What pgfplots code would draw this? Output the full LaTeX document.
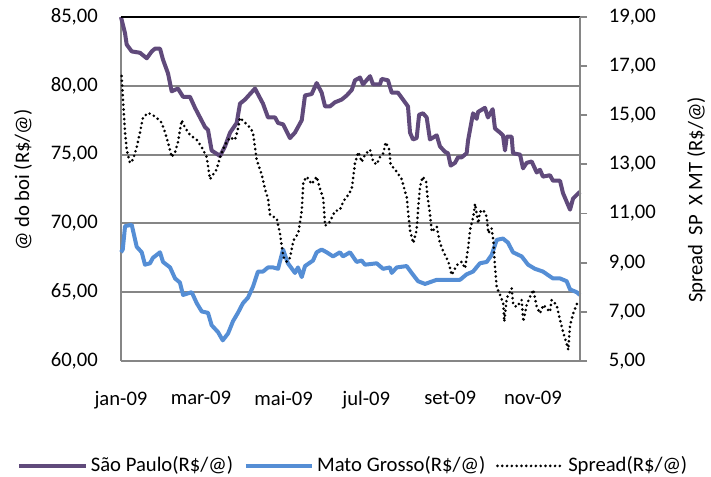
\documentclass[border=0pt]{standalone}
\usepackage{fontspec}
\setmainfont{Carlito}
\usepackage{pgfplots}
\pgfplotsset{compat=1.18}
\definecolor{spc}{HTML}{604A7B}
\definecolor{mtc}{HTML}{558ED5}
\definecolor{axgray}{HTML}{868686}

\begin{document}
\fontsize{15.5}{18}\selectfont
\begin{tikzpicture}
\pgfplotsset{
  every axis/.append style={
    scale only axis,
    width=344.25pt, height=258pt,
    xmin=0, xmax=338.75,
    clip=false,
    tick label style={font=\fontsize{15.5}{18}\selectfont},
    label style={font=\fontsize{15.5}{18}\selectfont},
    /pgf/number format/.cd, fixed, fixed zerofill, precision=2, use comma, assume math mode=true,
  },
}
\begin{axis}[
  name=ax,
  axis x line*=bottom, axis y line*=left,
  axis line style={draw=axgray, line width=1.6pt},
  ymin=60, ymax=85,
  ytick={60,65,...,85},
  xtick={0,59,120,181,243,304},
  xticklabels={jan-09,mar-09,mai-09,jul-09,set-09,nov-09},
  major tick length=0pt,
  xticklabel style={anchor=north, yshift=-17pt},
  yticklabel style={anchor=east, xshift=-12pt},
  ymajorgrids=true,
  grid style={draw=axgray, line width=1.4pt},
  ylabel={@ do boi (R\$/@)},
  ylabel style={at={(axis description cs:-0.2135,0.526)}, anchor=center, rotate=0},
  legend columns=3,
  legend style={at={(axis description cs:0.507,-0.305)}, anchor=center, draw=none, fill=none,
    font=\fontsize{15.5}{18}\selectfont,
    /tikz/every even column/.append style={column sep=6pt}},
  legend image code/.code={\draw[#1] (0pt,0pt) -- (50pt,0pt);},
]
\addplot[spc, line width=3pt, line join=round] coordinates {
(0,85.0) (3,83.8) (4.2,83.0) (7.9,82.5) (14,82.4) (19,82.0) (22.7,82.5) (25.1,82.7)
(28.8,82.7) (31,81.9) (34.7,80.9) (37.4,79.6) (42,79.8) (45.8,79.2) (50.9,79.2)
(54.6,78.4) (58.3,77.7) (62,77.0) (64.2,76.8) (66.9,75.3) (73.1,74.9) (76.8,75.6)
(80.5,76.6) (85.4,77.3) (87.8,78.7) (91.5,79.0) (98.9,79.8) (104.8,78.7) (108.5,77.7)
(113.7,77.7) (115.9,77.3) (119.6,77.2) (124.7,76.2) (128.4,76.6) (133.4,77.5)
(135.8,79.3) (140.7,79.4) (144.4,80.2) (148.1,79.5) (150.6,78.5) (154.2,78.5)
(157.9,78.8) (162.9,79.0) (166.6,79.3) (170.3,79.7) (172.7,80.4) (176.4,80.6)
(178.6,80.1) (183.8,80.7) (186,80.1) (191.1,80.1) (192.4,80.5) (197,80.4)
(199.8,79.5) (204.4,79.5) (209.6,78.8) (211.8,78.5) (213.3,76.6) (215.5,76.1)
(218.2,76.2) (220,77.9) (222.9,78.0) (225.6,77.7) (228,76.1) (233,76.4) (235.4,75.6)
(239.1,75.2) (241.3,75.1) (243.3,74.2) (246.5,74.4) (248.7,74.8) (251.4,74.8)
(255.1,75.1) (256.1,76.0) (259.8,78.0) (262.5,77.6) (263.5,78.1) (268.6,78.4)
(270.8,77.7) (274.3,78.3) (276,76.9) (279.7,76.6) (281.9,76.4) (283.4,75.3)
(284.7,76.3) (288.3,76.3) (289.3,75.1) (294.5,75.0) (296.7,74.0) (299.4,74.4)
(303.1,74.5) (306.8,73.7) (309.2,73.9) (311.4,73.4) (316.6,73.5) (318.8,73.1)
(324,73.1) (326.2,72.2) (331.4,71.0) (333.6,71.8) (338.7,72.3)
};
\addlegendentry{São Paulo(R\$/@)}
\addplot[mtc, line width=3pt, line join=round] coordinates {
(0,67.9) (1.3,68.1) (3,69.8) (7.9,69.9) (11.6,68.3) (15.3,67.9) (17.7,67.0) (21.4,67.1)
(23.6,67.5) (28.8,67.9) (31,67.2) (36.2,66.8) (39.9,66.0) (43.5,65.7) (45.8,64.8)
(52.2,65.0) (55.9,64.2) (59.6,63.6) (64.2,63.5) (66.9,62.6) (71.6,62.1) (75.1,61.5)
(79,62.0) (82.7,62.9) (86.3,63.5) (90,64.2) (93.7,64.6) (97.4,65.4) (101.1,66.5)
(104.8,66.5) (108.5,66.8) (112.2,66.8) (115.9,66.7) (119.6,68.1) (123.2,67.1)
(128.4,66.4) (130.6,66.8) (133.4,66.1) (135.8,66.9) (141.7,67.3) (144.4,67.9)
(148.1,68.1) (151.8,67.9) (156.5,67.6) (161.6,67.9) (163.8,67.6) (169,67.9)
(173.9,67.2) (177.6,67.3) (180.1,67.0) (188.7,67.1) (193.4,66.7) (198.5,66.8)
(199.8,66.4) (203.5,66.8) (210.8,66.9) (214.5,66.4) (219.2,65.8) (224.4,65.6)
(233,65.9) (242.8,65.9) (250.2,65.9) (255.1,66.3) (259.8,66.5) (264.9,67.1)
(269.9,67.2) (273.5,67.7) (277.3,68.8) (281.9,68.9) (285.6,68.6) (289.3,67.9)
(295.7,67.6) (300.4,67.0) (305.5,66.7) (311.4,66.5) (318.8,66.0) (324,66.0)
(328.9,65.8) (331.4,65.2) (336.3,65.0) (338.7,64.8)
};
\addlegendentry{Mato Grosso(R\$/@)}
\addlegendimage{black, line width=2.2pt, line cap=round, dash pattern=on 0pt off 3.6pt}
\addlegendentry{Spread(R\$/@)}
\end{axis}

\begin{axis}[
  axis x line*=top, axis y line*=right,
  x axis line style={draw=black, line width=1.6pt},
  y axis line style={draw=axgray, line width=1.6pt},
  ymin=5, ymax=19,
  ytick={5,7,...,19},
  xtick=\empty,
  tick align=outside,
  major tick length=5.25pt,
  tick style={draw=axgray, line width=1.4pt},
  yticklabel style={anchor=west, xshift=11pt},
  ylabel={Spread\ \ SP\ \ X MT (R\$/@)},
  ylabel style={at={(axis description cs:1.254,0.468)}, anchor=center, rotate=0, inner sep=1pt},
]
\addplot[black, line width=2.2pt, line cap=round, dash pattern=on 0pt off 3.6pt] coordinates {
(0.5,16.6) (1.5,15.6) (3,14.3) (4.2,13.6) (6.6,13.06) (8.9,13.2) (11.6,13.7) (14,14.3)
(16.2,14.9) (19.9,15.1) (23.6,15.0) (26.3,14.9) (30,14.7) (32.5,14.3) (34.7,13.9)
(37.4,13.3) (39.9,13.5) (42,13.9) (44.8,14.8) (47.2,14.5) (50.9,14.2) (55.9,14.0)
(59.6,13.7) (63.2,13.3) (65.7,12.4) (68.1,12.6) (70.6,12.8) (73.1,13.3) (76.8,13.8)
(80.5,14.1) (84.1,14.0) (86.6,14.5) (87.8,14.9) (91.5,14.7) (95.2,14.5) (97.4,14.3)
(100.1,13.2) (103.8,12.6) (106.3,12.0) (108.5,11.6) (110,10.94) (114.9,10.8)
(117.3,10.2) (119.8,9.24) (122.3,9.04) (124.7,9.2) (127.2,9.9) (130.8,10.2)
(133.4,11.1) (134.6,12.3) (137.1,12.5) (140.7,12.2) (144.4,12.5) (146.9,12.0)
(149.3,11.6) (150.6,10.5) (154.2,10.67) (157.9,11.1) (161.6,11.15) (164.1,11.5)
(167.7,11.76) (170.3,12.0) (172.7,13.06) (175.2,13.5) (177.6,13.1) (180.1,13.4)
(183.8,13.6) (186.2,13.1) (188.7,13.0) (191.1,13.3) (193.6,13.45) (195.3,13.9)
(198,13.6) (199,13.0) (203.5,12.7) (207.2,12.4) (209.6,11.9) (210.8,11.7) (212,11.0)
(213.3,10.33) (215.7,9.8) (218.2,10.33) (219.4,11.3) (220.7,12.1) (222.7,12.5)
(225.2,12.3) (226.2,11.7) (228,11.0) (229.3,10.26) (233,10.47) (235.4,9.8)
(237.9,9.45) (241.6,9.04) (244.1,8.5) (247.8,8.9) (251.4,9.04) (253.9,8.77)
(256.3,9.65) (257.6,10.33) (260,10.87) (261.3,11.4) (262.5,11.0) (263.7,10.6)
(264.9,11.07) (267.4,11.15) (269.9,10.87) (271.1,10.2) (273.5,10.4) (274.8,9.9)
(276,8.84) (277.3,8.0) (279.7,7.7) (282.1,7.35) (282.9,6.6) (284.7,7.55) (288.3,7.96)
(289.5,7.28) (292,7.2) (295.7,7.48) (296.9,6.6) (299.4,7.28) (301.8,7.6) (304.3,7.9)
(306.8,7.2) (309.2,6.94) (311.7,7.28) (316.6,7.0) (317.8,7.48) (321.5,7.28)
(324,6.67) (326.5,6.13) (328.9,5.7) (330.1,5.45) (331.4,6.46) (333.8,6.94) (337.5,7.48)
};
\end{axis}
\pgfresetboundingbox
\path (ax.south west) ++(-90.75pt,-87pt) rectangle ++(533.25pt,357.75pt);
\end{tikzpicture}
\end{document}
